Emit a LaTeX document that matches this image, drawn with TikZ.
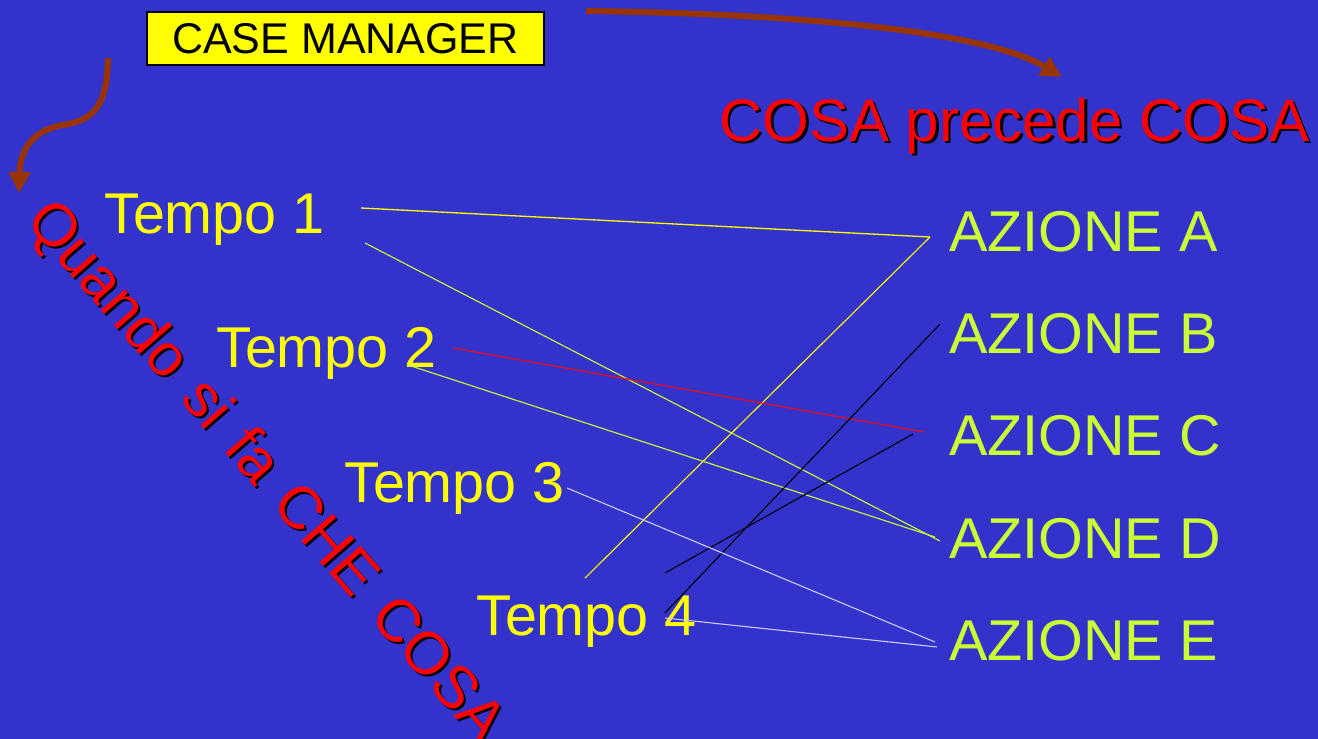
\documentclass[tikz,border=0pt]{standalone}
\usepackage{fontspec}
\setmainfont{Liberation Sans}
\usetikzlibrary{arrows.meta}
\definecolor{bg}{HTML}{3333CC}
\definecolor{tyel}{HTML}{FFFF00}
\definecolor{agrn}{HTML}{CCFF33}
\definecolor{brn}{HTML}{993300}
\definecolor{lav}{HTML}{CCCCFF}
\newcommand{\wsp}{\hspace{0.378em}}
\tikzset{
  tempo/.style={anchor=base west,inner sep=0pt,text=tyel,font=\fontsize{57.5}{60}\selectfont},
  azione/.style={anchor=base west,inner sep=0pt,text=agrn,font=\fontsize{57.5}{60}\selectfont},
  bigred/.style={inner sep=0pt,text=red,font=\fontsize{60}{64}\selectfont},
  bigshadow/.style={inner sep=0pt,text=black,font=\fontsize{60}{64}\selectfont},
  cmbox/.style={draw=black,line width=1.5pt,fill=tyel,minimum width=397pt,minimum height=53pt,inner sep=0pt,font=\fontsize{43}{46}\selectfont},
  bigarrow/.style={draw=brn,line width=6pt,-{Triangle[length=21pt,width=21pt]}},
  conn/.style={line width=1.1pt},
}
\begin{document}
\begin{tikzpicture}[x=1pt,y=-1pt]
\fill[bg] (0,0) rectangle (1318,739);
\useasboundingbox (0,0) rectangle (1318,739);

% case manager box
\node[cmbox] (cm) at (345.5,38.5) {CASE MANAGER};

% titles with shadow
\node[bigshadow,anchor=base west] (cosash) at (721.5,143.5) {COSA precede COSA};
\node[bigred,anchor=base west] (cosa) at (719,141) {COSA precede COSA};
\node[bigshadow,rotate=-49] (quandosh) at (266,475) {Quando\wsp si\wsp fa\wsp CHE\wsp COSA};
\node[bigred,rotate=-49] (quando) at (264,473) {Quando\wsp si\wsp fa\wsp CHE\wsp COSA};

% brown arrows
\coordinate (arTs) at (586,11);
\coordinate (arTe) at (1062,77);
\draw[bigarrow] (arTs) .. controls (820,14) and (990,34) .. (arTe);
\coordinate (arLs) at (108,58);
\coordinate (arLm) at (63,125);
\coordinate (arLe) at (19,193);
\draw[bigarrow] (arLs) .. controls (107,105) and (95,120) .. (arLm) .. controls (28,131) and (20,155) .. (arLe);

% tempo labels
\node[tempo] (t1) at (104,233.5) {Tempo 1};
\node[tempo] (t2) at (216,367) {Tempo 2};
\node[tempo] (t3) at (344,502.5) {Tempo 3};
\node[tempo] (t4) at (476,635) {Tempo 4};

% azione labels
\node[azione] (aA) at (949,251) {AZIONE A};
\node[azione] (aB) at (949,353) {AZIONE B};
\node[azione] (aC) at (949,455.5) {AZIONE C};
\node[azione] (aD) at (949,558) {AZIONE D};
\node[azione] (aE) at (949,660) {AZIONE E};

% connector end points
\coordinate (t1a) at (361,208);
\coordinate (t1b) at (365,243);
\coordinate (t2a) at (453,348);
\coordinate (t2b) at (408,365);
\coordinate (t3a) at (567,488);
\coordinate (t4a) at (585,578);
\coordinate (t4b) at (665,573);
\coordinate (t4c) at (665,613);
\coordinate (t4d) at (665,618);
\coordinate (pA) at (930,237);
\coordinate (pB) at (940,324);
\coordinate (pC1) at (924,432);
\coordinate (pC2) at (913,434);
\coordinate (pD1) at (940,541);
\coordinate (pD2) at (935,537);
\coordinate (pE1) at (935,642);
\coordinate (pE2) at (937,647);

% connectors
\draw[conn,tyel,line width=1.3pt] (t1a) -- (pA);
\draw[conn,tyel] (pA) -- (t4a);
\draw[conn,agrn] (t1b) -- (pD1);
\draw[conn,agrn] (t2b) -- (pD2);
\draw[conn,red] (t2a) -- (pC1);
\draw[conn,black] (pB) -- (t4c);
\draw[conn,black] (pC2) -- (t4b);
\draw[conn,lav] (t3a) -- (pE1);
\draw[conn,lav] (t4d) -- (pE2);
\end{tikzpicture}
\end{document}
